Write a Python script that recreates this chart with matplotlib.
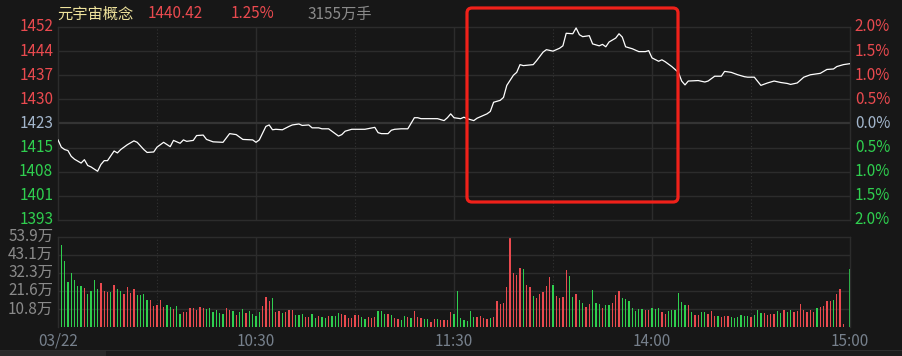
import numpy as np
import matplotlib
matplotlib.use('Agg')
from matplotlib import pyplot as plt
from matplotlib.patches import FancyBboxPatch, Rectangle

plt.rcParams['font.family'] = ['Noto Sans CJK SC', 'DejaVu Sans']

# price line: minute index (0 = 09:30, 120 = 11:30/13:00, 240 = 15:00) and change in %
minutes = [0, 1, 2, 3, 4, 5, 7, 8, 9, 10, 12, 13, 14, 15, 17, 18, 19, 21, 23, 24, 26, 27, 29, 30,
           32, 34, 35, 37, 38, 39, 41, 42, 44, 45, 47, 50, 52, 54, 56, 59, 60, 61, 63, 64, 65, 66,
           68, 70, 71, 73, 74, 76, 77, 79, 80, 82, 83, 85, 86, 87, 89, 91, 93, 96, 97, 98, 100,
           101, 102, 104, 106, 108, 109, 110, 112, 115, 117, 118, 119, 120, 122, 123, 124, 126,
           127, 129, 130, 131, 132, 134, 135, 136, 138, 139, 140, 141, 144, 145, 147, 148, 150,
           152, 153, 154, 156, 157, 158, 159, 161, 162, 164, 165, 166, 167, 169, 170, 171, 172,
           174, 176, 178, 179, 180, 182, 183, 184, 186, 188, 189, 190, 191, 194, 196, 197, 199,
           201, 202, 204, 206, 208, 209, 211, 213, 215, 217, 219, 221, 222, 224, 226, 228, 230,
           231, 233, 235, 236, 238, 240]
change = [-0.34, -0.49, -0.54, -0.56, -0.68, -0.74, -0.82, -0.75, -0.87, -0.90, -0.99, -0.85,
          -0.77, -0.77, -0.57, -0.61, -0.54, -0.44, -0.36, -0.39, -0.54, -0.60, -0.59, -0.49,
          -0.39, -0.48, -0.35, -0.41, -0.34, -0.37, -0.35, -0.25, -0.24, -0.33, -0.38, -0.39,
          -0.21, -0.23, -0.33, -0.34, -0.39, -0.34, -0.06, -0.03, -0.13, -0.12, -0.13, -0.06,
          -0.03, -0.01, -0.04, -0.03, -0.09, -0.09, -0.11, -0.11, -0.16, -0.26, -0.23, -0.16,
          -0.12, -0.12, -0.12, -0.08, -0.19, -0.21, -0.21, -0.14, -0.12, -0.11, -0.11, 0.12,
          0.12, 0.10, 0.10, 0.10, 0.06, 0.12, 0.20, 0.12, 0.10, 0.13, 0.10, 0.06, 0.11, 0.17,
          0.20, 0.25, 0.44, 0.48, 0.54, 0.79, 1.00, 1.06, 1.22, 1.20, 1.22, 1.30, 1.48, 1.53,
          1.50, 1.56, 1.61, 1.87, 1.86, 1.98, 1.84, 1.80, 1.82, 1.65, 1.61, 1.64, 1.59, 1.69,
          1.77, 1.86, 1.79, 1.59, 1.55, 1.49, 1.49, 1.51, 1.36, 1.29, 1.32, 1.28, 1.18, 1.06,
          0.88, 0.80, 0.88, 0.89, 0.86, 0.88, 0.98, 0.98, 1.08, 1.06, 1.01, 0.97, 0.96, 0.96,
          0.79, 0.84, 0.88, 0.85, 0.83, 0.81, 0.84, 0.96, 1.01, 1.03, 1.04, 1.12, 1.13, 1.18,
          1.22, 1.24]

# volume per minute (万), morning 09:30-11:30 then afternoon 13:01-15:00
vol_am = [15.4, 49, 39.4, 27, 32.3, 28, 24.4, 24.4, 23.4, 19.6, 21.4, 28, 22.6, 26.2, 21.4, 20.8,
          20.8, 25.2, 22.6, 21.4, 19.6, 23.8, 20.2, 22.6, 19, 19, 19.6, 16, 16, 12.4, 13, 16,
          11.8, 13, 11.8, 10.6, 12.4, 7.6, 8.8, 8.8, 11.2, 11.2, 10, 11.8, 11.2, 10.6, 11.2, 8.8,
          10, 8.2, 7.6, 11.2, 10, 9.4, 7, 8.8, 10.6, 8.2, 9.4, 7.6, 6.4, 8.8, 12.4, 17.8, 15.4,
          17.2, 8.8, 9.4, 8.2, 8.8, 10, 10, 7, 7,
          7.6, 5.8, 5.8, 7.6, 5.2, 6.4, 5.8, 5.2, 6.4, 6.4, 6.4, 8.2, 7.6, 7, 5.2, 5.2, 7, 7,
          5.8, 4.6, 5.8, 5.2, 5.8, 9.4, 9.4, 7.6, 7.6, 7, 5.2, 4.6, 4, 6.4, 5.8, 5.2, 9.4, 5.8,
          5.2, 4.6, 4.6, 2.8, 4.6, 4.6, 4, 4, 4, 8.8, 7.6]
dir_am = list('ggggggggrggggrrrgrggrrrrggggrrrrrggrggrrrrrrrggggggrrgrggrggggrrrgrrgrrrgg'
              'grrggrggrgggrrrrrrggrrrgggrgrrggrgrrrggrrgrrrrg')
vol_pm = [21.4, 5.2, 4, 3.4, 9.4, 5.8, 5.8, 6.4, 5.2, 4.6, 5.2, 5.8, 15.4, 13.6, 14.2, 23.8,
          53.7, 32.1, 30.9, 35.1, 34.5, 25, 23.8, 18.4, 17.2, 19.6, 20.8, 24.4, 29.8, 25, 18.4,
          17.2, 17.8, 33.9, 30.3, 17.8, 19.6, 16, 14.2, 11.8, 13.6, 22, 14.2, 13.6,
          11.2, 13, 13, 14.2, 19, 21.4, 17.2, 16.6, 15.4, 11.2, 9.4, 10.6, 10.6, 10, 10, 11.2,
          10.6, 11.2, 8.8, 7.6, 9.4, 10, 10, 20.2, 14.8, 13, 13, 8.8, 7, 7, 8.8, 8.8, 7.6, 9.4,
          6.4, 6.4, 5.8, 6.4, 6.4, 5.8, 5.2, 5.8, 7, 6.4, 6.4, 5.8, 7, 10, 8.2, 8.2, 7, 7.6,
          7.6, 9.4, 8.2, 10, 8.8, 10, 8.8, 9.4, 13.6, 10, 8.8, 10, 8.8, 11.2, 11.8, 12.4, 15.4,
          15.4, 16, 19.6, 22.6, 1.6, 0, 34.5]
dir_pm = list('ggggggrrrrgrrrrrrrrrgrrgrrrrrgrrrrggrggrrggg'
              'rggrrrgggggggrrgggrrggggggrgrrggrrrgrrrggggggrgggrrrrggrggrrrrrrrgrrrrgrrrgg')

left_labels = ['1452', '1444', '1437', '1430', '1423', '1415', '1408', '1401', '1393']
right_labels = ['2.0%', '1.5%', '1.0%', '0.5%', '0.0%', '0.5%', '1.0%', '1.5%', '2.0%']
label_levels = [2.0, 1.5, 1.0, 0.5, 0.0, -0.5, -1.0, -1.5, -2.0]
vol_ticks = [10.8, 21.6, 32.3, 43.1, 53.9]
time_ticks = [0, 60, 120, 180, 240]
time_labels = ['03/22', '10:30', '11:30', '14:00', '15:00']

BG = '#171717'
GRID = '#2c2c2c'
RED = '#ea4a4f'
GREEN = '#2fcf4f'
BLUE = '#a3b6cc'
GREY = '#8a8a8a'
FS = 11

W, H = 902, 356
fig = plt.figure(figsize=(W / 100, H / 100), dpi=100, facecolor=BG)
ax = fig.add_axes([58 / W, (H - 220) / H, 792 / W, 193 / H], facecolor=BG)
vax = fig.add_axes([58 / W, (H - 327) / H, 792 / W, 90.5 / H], facecolor=BG)

for a in (ax, vax):
    a.set_xlim(0, 240)
    a.set_xticks([])
    a.set_yticks([])
    for s in a.spines.values():
        s.set_color(GRID)
        s.set_linewidth(1)
    for m in (30, 90, 150, 210):
        a.axvline(m, color='#333333', lw=0.8, ls=(0, (1, 2)), zorder=0)
    for m in (60, 120, 180):
        a.axvline(m, color=GRID, lw=1, zorder=0)
vax.spines['bottom'].set_visible(False)

# price panel
ax.set_ylim(-2, 2)
for lv in label_levels[1:-1]:
    ax.axhline(lv, color='#343434' if lv == 0 else GRID, lw=1.6 if lv == 0 else 1, zorder=0)
ax.plot(minutes, change, color='white', lw=0.9, zorder=3)

for lv, ltxt, rtxt in zip(label_levels, left_labels, right_labels):
    c = RED if lv > 0 else (BLUE if lv == 0 else GREEN)
    ax.text(-0.006, lv, ltxt, transform=ax.get_yaxis_transform(), ha='right', va='center',
            color=c, fontsize=FS, clip_on=False)
    ax.text(1.006, lv, rtxt, transform=ax.get_yaxis_transform(), ha='left', va='center',
            color=c, fontsize=FS, clip_on=False)

# volume panel
vol = np.array(vol_am + vol_pm)
dirs = dir_am + dir_pm
x = np.arange(len(vol))
vax.set_ylim(0, 53.9)
for v in vol_ticks[:-1]:
    vax.axhline(v, color=GRID, lw=1, zorder=0)
vax.bar(x, vol, width=0.38, color=[RED if d == 'r' else GREEN for d in dirs], lw=0, zorder=2)
for v in vol_ticks:
    vax.text(-0.006, v, f'{v:.1f}万', transform=vax.get_yaxis_transform(), ha='right',
             va='center', color=GREY, fontsize=FS, clip_on=False)
for t, lab in zip(time_ticks, time_labels):
    vax.text(t, -0.16, lab, transform=vax.get_xaxis_transform(), ha='center', va='center',
             color='#76808c', fontsize=FS, clip_on=False)

# header
fig.text(57 / W, (H - 14) / H, '元宇宙概念', color='#efe39c', fontsize=FS, va='center')
fig.text(148 / W, (H - 14) / H, '1440.42', color=RED, fontsize=FS, va='center')
fig.text(231 / W, (H - 14) / H, '1.25%', color=RED, fontsize=FS, va='center')
fig.text(308 / W, (H - 14) / H, '3155万手', color=GREY, fontsize=FS, va='center')

# highlight box
fig.patches.append(FancyBboxPatch((4.67, (H - 202) / 100), 2.11, 1.94,
                                  boxstyle='round,pad=0,rounding_size=0.05',
                                  transform=fig.dpi_scale_trans, fill=False,
                                  edgecolor='#f0211a', lw=2.3, zorder=10))

# bottom strip
fig.patches.append(Rectangle((0, 0), 1, 5 / H, transform=fig.transFigure,
                             facecolor='#1c1c1c', edgecolor='none'))
fig.patches.append(Rectangle((0, 0), 106 / W, 5 / H, transform=fig.transFigure,
                             facecolor='#2a2a2a', edgecolor='none'))
fig.patches.append(Rectangle((0, 5 / H), 1, 1 / H, transform=fig.transFigure,
                             facecolor='#2e2e2e', edgecolor='none'))

fig.savefig('out.png', dpi=100, facecolor=BG)
